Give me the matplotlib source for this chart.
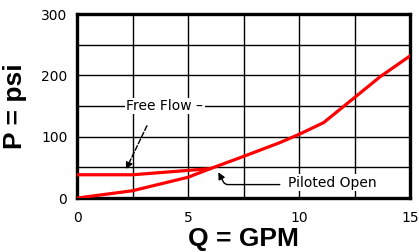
import matplotlib.pyplot as plt

# piloted open curve
piloted_q = [0, 2.5, 5, 6, 7.5, 9.1, 10, 11.1, 12.7, 13.65, 15]
piloted_p = [0, 12, 34, 48, 68, 90, 104, 123, 170, 198, 232]

# free flow curve
free_q = [0, 2.5, 6]
free_p = [38, 38, 48]

x_ticks = [0, 5, 10, 15]
y_ticks = [0, 100, 200, 300]

fig = plt.figure(figsize=(4.19, 2.52), dpi=100)
ax = fig.add_axes([0.184, 0.214, 0.795, 0.730])

ax.plot(piloted_q, piloted_p, color='#ff0000', lw=2.3, zorder=3)
ax.plot(free_q, free_p, color='#ff0000', lw=2.3, zorder=3)

ax.set_xlim(0, 15)
ax.set_ylim(0, 300)
ax.set_xticks(x_ticks)
ax.set_yticks(y_ticks)
ax.set_xticks([2.5, 7.5, 12.5], minor=True)
ax.set_yticks([50, 150, 250], minor=True)
ax.grid(True, which='both', color='black', lw=1.0)
ax.tick_params(which='both', length=0)
ax.tick_params(axis='x', pad=9, labelsize=10)
ax.tick_params(axis='y', pad=7, labelsize=10)
for s in ax.spines.values():
    s.set_linewidth(2.4)

ax.set_xlabel("Q = GPM", fontsize=19, fontweight='bold', family='Liberation Sans', labelpad=2)
ax.set_ylabel("P = psi", fontsize=19, fontweight='bold', family='Liberation Sans', labelpad=10)

# labels
ax.text(3.95, 150, "Free Flow \u2013", ha='center', va='center', fontsize=10,
        bbox=dict(facecolor='white', edgecolor='none', pad=1.0), zorder=4)
ax.annotate("", xy=(2.15, 43), xytext=(3.2, 122),
            arrowprops=dict(arrowstyle='-|>', color='black', lw=1.0, ls='--',
                            mutation_scale=10), zorder=4)

ax.text(9.5, 25, "Piloted Open", ha='left', va='center', fontsize=10,
        bbox=dict(facecolor='white', edgecolor='none', pad=1.0), zorder=4)
ax.annotate("", xy=(6.3, 46), xytext=(9.25, 22),
            arrowprops=dict(arrowstyle='-|>', color='black', lw=1.0,
                            connectionstyle='angle,angleA=0,angleB=-62,rad=3',
                            mutation_scale=10), zorder=4)

fig.savefig("out.png", dpi=100)
